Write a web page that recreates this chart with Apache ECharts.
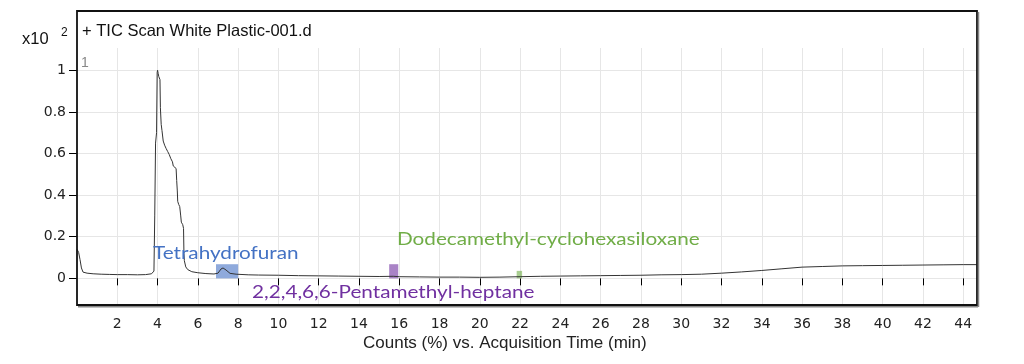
<!DOCTYPE html>
<html><head><meta charset="utf-8">
<script src="https://cdn.jsdelivr.net/npm/echarts@6/dist/echarts.min.js"></script>
<style>html,body{margin:0;padding:0;background:#fff}#c{width:1024px;height:364px}</style>
</head><body><div id="c"></div>
<script>
var times = [0.00,0.08,0.15,0.22,0.30,0.50,0.80,1.20,1.60,2.00,2.50,3.00,3.40,3.70,3.82,3.86,3.90,3.95,3.98,4.00,4.03,4.06,4.09,4.12,4.14,4.18,4.22,4.28,4.35,4.42,4.50,4.58,4.66,4.74,4.78,4.85,4.92,4.95,4.98,5.00,5.05,5.10,5.15,5.18,5.25,5.29,5.31,5.33,5.40,5.50,5.70,6.00,6.40,6.80,7.00,7.15,7.25,7.40,7.60,7.90,8.50,9.00,10.0,11.0,12.0,13.0,14.0,15.0,15.7,16.0,17.0,18.0,19.0,20.0,21.0,22.0,23.0,24.0,25.0,26.0,27.0,28.0,29.0,30.0,31.0,32.0,33.0,34.0,35.0,36.0,37.0,38.0,39.0,40.0,41.0,42.0,43.0,44.0,44.67];
var counts = [0.140,0.125,0.090,0.050,0.030,0.025,0.022,0.020,0.019,0.018,0.018,0.017,0.018,0.022,0.035,0.300,0.650,0.700,0.990,1.000,0.985,0.970,0.975,0.955,0.820,0.740,0.710,0.660,0.640,0.625,0.610,0.595,0.575,0.560,0.540,0.535,0.528,0.470,0.420,0.370,0.355,0.345,0.300,0.270,0.258,0.240,0.120,0.085,0.055,0.042,0.032,0.027,0.023,0.021,0.025,0.045,0.050,0.040,0.024,0.020,0.017,0.016,0.015,0.013,0.012,0.011,0.010,0.009,0.010,0.008,0.007,0.006,0.006,0.005,0.006,0.008,0.010,0.011,0.012,0.013,0.014,0.015,0.017,0.018,0.020,0.025,0.031,0.038,0.046,0.054,0.057,0.060,0.061,0.062,0.063,0.064,0.065,0.066,0.066];
var xTicks = [2,4,6,8,10,12,14,16,18,20,22,24,26,28,30,32,34,36,38,40,42,44];
var yTicks = [0,0.2,0.4,0.6,0.8,1];
var compounds = ['Tetrahydrofuran','2,2,4,6,6-Pentamethyl-heptane','Dodecamethyl-cyclohexasiloxane'];
var compStart = [6.9,15.5,21.83];
var compEnd = [8.0,15.95,22.1];
var compTop = [0.068,0.068,0.036];
var compColors = ['#4472C4','#7030A0','#70AD47'];

var data = times.map(function(t,i){return [t,counts[i]];});
var areas = compounds.map(function(n,i){
  return [{xAxis:compStart[i],yAxis:0,itemStyle:{color:compColors[i],opacity:0.6}},{xAxis:compEnd[i],yAxis:compTop[i]}];
});
var chart = echarts.init(document.getElementById('c'));
var F = 'Liberation Sans, Arial, sans-serif';
var T = 'DejaVu Sans, sans-serif';
var A = 'Lato, Open Sans, sans-serif';
function lbl(txt,x,y,c){
  return {type:'text',x:x,y:y,scaleX:1.15,z:100,
    style:{text:txt,fill:c,fontSize:18,fontFamily:A,textVerticalAlign:'middle'}};
}
chart.setOption({
  animation:false,
  grid:{left:77,right:47.3,top:48,bottom:59,containLabel:false},
  xAxis:{type:'value',min:0,max:44.67,interval:2,
    axisLine:{show:false},
    axisTick:{show:true,length:7,inside:false,lineStyle:{color:'#000'}},
    axisLabel:{color:'#222',fontSize:14,fontFamily:T,margin:12,showMinLabel:false,showMaxLabel:false,
      formatter:function(v){return xTicks.indexOf(v)>=0?String(v):'';}},
    splitLine:{show:true,showMinLine:false,showMaxLine:false,lineStyle:{color:'#e6e6e6'}}
  },
  yAxis:{type:'value',min:-0.128,max:1.107,splitNumber:6,
    axisLine:{show:false},
    axisTick:{show:true,length:8,lineStyle:{color:'#000'}},
    axisLabel:{color:'#222',fontSize:14,fontFamily:T,margin:11,showMinLabel:false,showMaxLabel:false,
      formatter:function(v){return yTicks.indexOf(Math.round(v*10)/10)>=0?String(Math.round(v*10)/10):'';}},
    splitLine:{show:true,showMinLine:false,showMaxLine:false,lineStyle:{color:'#e6e6e6'}}
  },
  series:[{type:'line',data:data,showSymbol:false,symbol:'none',
    lineStyle:{color:'#333',width:1},
    markArea:{silent:true,data:areas}
  }],
  graphic:[
    {type:'rect',shape:{x:77,y:11,width:900,height:294},style:{fill:'none',stroke:'#111',lineWidth:1.8},z:100},
    {type:'line',shape:{x1:978.5,y1:12,x2:978.5,y2:307},style:{stroke:'#888',lineWidth:1.5},z:100},
    {type:'line',shape:{x1:78,y1:306.8,x2:978,y2:306.8},style:{stroke:'#888',lineWidth:1.5},z:100},
    {type:'text',x:82,y:31,style:{text:'+ TIC Scan White Plastic-001.d',fill:'#111',fontSize:16.5,fontFamily:F,textVerticalAlign:'middle'},z:100},
    {type:'text',x:22,y:39,style:{text:'x10',fill:'#111',fontSize:16.5,fontFamily:F,textVerticalAlign:'middle'},z:100},
    {type:'text',x:61,y:33,style:{text:'2',fill:'#111',fontSize:12,fontFamily:F,textVerticalAlign:'middle'},z:100},
    {type:'text',x:81,y:63,style:{text:'1',fill:'#888',fontSize:14,fontFamily:F,textVerticalAlign:'middle'},z:100},
    {type:'text',x:363,y:343,style:{text:'Counts (%) vs. Acquisition Time (min)',fill:'#222',fontSize:17,fontFamily:F,textVerticalAlign:'middle'},z:100},
    lbl(compounds[0],153,253,compColors[0]),
    lbl(compounds[1],252,292,compColors[1]),
    lbl(compounds[2],397,239.5,compColors[2])
  ]
});
</script></body></html>
